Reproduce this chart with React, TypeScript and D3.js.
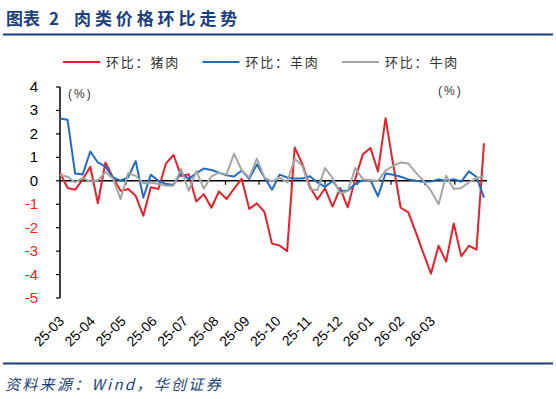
import { useMemo } from "react";
import * as d3 from "d3";

// weekly month-on-month changes (%)
const pork = [
  0.35, -0.31, -0.38, 0.05, 0.6, -0.96, 0.78, 0.14, -0.43, -0.35,
  -0.64, -1.49, -0.28, -0.35, 0.74, 1.1, 0.2, 0.28, -0.88, -0.57,
  -1.15, -0.45, -0.78, -0.33, 0.08, -1.2, -0.96, -1.33, -2.68, -2.76,
  -3.0, 1.42, 0.72, -0.25, -0.8, -0.32, -1.1, -0.31, -1.13, 0.08,
  1.13, 1.4, 0.4, 2.67, 0.7, -1.15, -1.35, -2.2, -3.1, -3.96,
  -2.77, -3.45, -1.82, -3.22, -2.77, -2.94, 1.6,
];
const mutton = [
  2.66, 2.6, 0.31, 0.27, 1.25, 0.78, 0.6, 0.14, 0.0, 0.15,
  0.84, -0.72, 0.26, 0.0, -0.14, -0.17, 0.33, 0.07, 0.33, 0.52,
  0.46, 0.35, 0.23, 0.18, 0.44, 0.08, 0.7, 0.14, -0.38, 0.26,
  0.14, 0.1, 0.1, 0.19, -0.07, -0.26, -0.01, -0.43, -0.42, -0.14,
  0.03, 0.03, -0.66, 0.31, 0.26, 0.17, 0.06, 0.0, -0.04, -0.03,
  0.06, 0.0, 0.07, -0.04, 0.4, 0.17, -0.72,
];
const beef = [
  0.25, 0.17, -0.07, 0.12, -0.04, 0.03, 0.37, 0.09, -0.78, 0.33,
  0.21, -0.11, -0.07, -0.14, -0.21, -0.21, 0.5, -0.43, 0.41, -0.33,
  0.19, 0.35, 0.27, 1.16, 0.45, 0.14, 0.95, 0.14, -0.04, 0.14,
  -0.07, 0.94, 0.64, -0.35, -0.4, 0.54, 0.12, -0.53, -0.44, 0.54,
  0.07, 0.03, 0.0, 0.43, 0.64, 0.78, 0.74, 0.35, 0.0, -0.43,
  -1.0, 0.21, -0.35, -0.31, -0.07, 0.11, 0.21,
];
const monthLabels = [
  "25-03", "25-04", "25-05", "25-06", "25-07", "25-08", "25-09",
  "25-10", "25-11", "25-12", "26-01", "26-02", "26-03",
];
const yTicks = [4, 3, 2, 1, 0, -1, -2, -3, -4, -5];

const series = [
  { name: "环比：猪肉", values: pork, color: "#E8202A" },
  { name: "环比：羊肉", values: mutton, color: "#1F6CC4" },
  { name: "环比：牛肉", values: beef, color: "#A6A6A6" },
];

const navy = "#1B3F7E";
const font = "Arial, 'Liberation Sans', sans-serif";
const cjk = "'Noto Sans CJK SC', sans-serif";

export default function App() {
  const width = 556;
  const height = 399;

  const startDate = new Date(2025, 2, 1);
  const dates = pork.map((_, i) => d3.timeDay.offset(startDate, 7 * i));

  const x = useMemo(
    () =>
      d3
        .scaleTime()
        .domain([dates[0], dates[dates.length - 1]])
        .range([60, 484]),
    []
  );
  const y = d3.scaleLinear().domain([-5, 4]).range([298, 87]);
  const labelX = d3.scalePoint().domain(monthLabels).range([65, 436]);

  const monthTicks = d3.timeMonth.range(
    new Date(2025, 3, 1),
    dates[dates.length - 1]
  );

  const line = d3
    .line<number>()
    .x((_, i) => x(dates[i]))
    .y((d) => y(d));

  return (
    <svg
      width={width}
      height={height}
      style={{ position: "absolute", left: 0, top: 0, background: "#fff" }}
    >
      {/* title */}
      <text x={6} y={25} fill={navy} fontFamily={cjk} fontWeight={700} fontSize={17}>
        <tspan x={6}>图表</tspan>
        <tspan x={49}>2</tspan>
        <tspan x={74} letterSpacing={3.9}>
          肉类价格环比走势
        </tspan>
      </text>
      <line x1={3} x2={553} y1={34.5} y2={34.5} stroke={navy} strokeWidth={2} />

      {/* legend */}
      {series.map((s, i) => {
        const lx = 63 + i * 139.5;
        return (
          <g key={s.name}>
            <line x1={lx} x2={lx + 37} y1={62} y2={62} stroke={s.color} strokeWidth={2} />
            <text
              x={lx + 43}
              y={67}
              fontFamily={cjk}
              fontSize={13}
              letterSpacing={1.8}
              fill="#333"
            >
              {s.name}
            </text>
          </g>
        );
      })}

      {/* y axis */}
      <line x1={60} x2={60} y1={y(4)} y2={y(-5)} stroke="#000" strokeWidth={1.5} />
      {yTicks.map((t) => (
        <g key={t}>
          <line x1={56} x2={60} y1={y(t)} y2={y(t)} stroke="#000" strokeWidth={1.2} />
          <text
            x={38}
            y={y(t) + 5}
            textAnchor="end"
            fontFamily={font}
            fontSize={15}
            fill={t < 0 ? "#FF2020" : "#000"}
          >
            {t}
          </text>
        </g>
      ))}
      <text x={68} y={98} fontFamily={font} fontSize={12} letterSpacing={2} fill="#333">
        (%)
      </text>
      <text x={438} y={95} fontFamily={font} fontSize={12} letterSpacing={2} fill="#333">
        (%)
      </text>

      {/* zero line and month ticks */}
      <line x1={60} x2={487} y1={y(0)} y2={y(0)} stroke="#000" strokeWidth={1.5} />
      {monthTicks.map((d) => (
        <line
          key={d.getTime()}
          x1={x(d)}
          x2={x(d)}
          y1={y(0)}
          y2={y(0) + 4}
          stroke="#000"
          strokeWidth={1.2}
        />
      ))}

      {/* series */}
      {series.map((s) => (
        <path
          key={s.name}
          d={line(s.values) ?? ""}
          fill="none"
          stroke={s.color}
          strokeWidth={2}
          strokeLinejoin="round"
        />
      ))}

      {/* x labels */}
      {monthLabels.map((m) => (
        <text
          key={m}
          transform={`translate(${labelX(m)},322) rotate(-45)`}
          textAnchor="end"
          fontFamily={font}
          fontSize={14}
          fill="#000"
        >
          {m}
        </text>
      ))}

      {/* footer */}
      <line x1={3} x2={553} y1={363.5} y2={363.5} stroke={navy} strokeWidth={2} />
      <text
        x={5}
        y={390}
        fill={navy}
        fontFamily={cjk}
        fontStyle="italic"
        fontSize={15}
        letterSpacing={2.3}
      >
        资料来源：Wind，华创证券
      </text>
    </svg>
  );
}
